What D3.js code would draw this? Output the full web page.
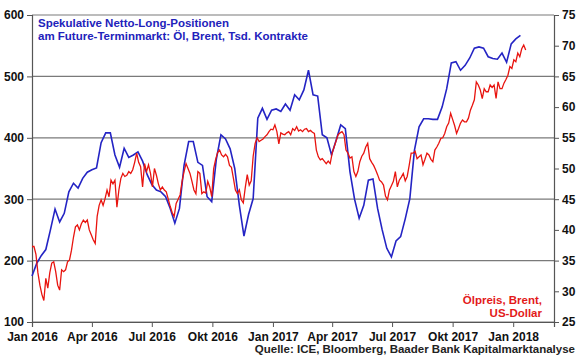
<!DOCTYPE html>
<html>
<head>
<meta charset="utf-8">
<script src="https://cdn.jsdelivr.net/npm/d3@7"></script>
<style>
  body { margin: 0; background: #fff; }
  svg text { font-family: "Liberation Sans", Arial, sans-serif; font-weight: bold; }
</style>
</head>
<body>
<div id="chart"></div>
<script>
// weekly net long positions (Tsd. contracts), starting 1 Jan 2016
var positions = [175, 195, 208, 218, 250, 284, 263, 277, 312, 326, 318, 334, 344, 348, 351, 392, 408, 408, 372, 352,
  383, 368, 372, 377, 362, 340, 324, 315, 312, 304, 285, 261, 285, 355, 394, 394, 360, 355, 304, 296,
  365, 405, 398, 382, 350, 290, 240, 275, 301, 432, 448, 430, 445, 447, 443, 455, 445, 470, 462, 478,
  510, 470, 468, 405, 400, 372, 396, 421, 415, 345, 300, 269, 290, 331, 333, 285, 250, 220, 206, 232,
  239, 268, 301, 380, 418, 431, 431, 430, 430, 450, 480, 522, 524, 510, 518, 530, 546, 548, 546, 532,
  529, 528, 538, 523, 553, 561, 567];

// Brent price in USD, every 3 days from 1 Jan 2016
var brent = [37.3, 37.3, 36.0, 33.0, 31.0, 29.5, 28.5, 32.1, 30.5, 33.0, 34.6, 34.8, 33.2, 31.0, 30.2, 33.5, 33.2, 33.5, 34.8, 35.1,
  36.7, 38.8, 40.5, 40.8, 40.0, 41.0, 41.6, 41.2, 41.6, 40.0, 39.2, 38.4, 37.8, 42.2, 44.0, 44.9, 44.0, 45.1, 46.5, 45.4,
  48.1, 47.5, 48.1, 43.7, 46.5, 48.4, 49.2, 48.7, 48.9, 49.5, 49.2, 49.8, 51.0, 52.5, 51.0, 50.3, 47.0, 50.8, 49.5, 50.6,
  49.2, 47.0, 50.0, 48.9, 47.5, 46.5, 47.0, 46.5, 46.2, 45.0, 43.8, 42.8, 42.2, 44.3, 45.0, 45.7, 47.9, 49.5, 50.8, 50.0,
  49.2, 47.9, 46.5, 45.9, 49.5, 49.2, 45.9, 46.2, 46.0, 47.9, 47.0, 45.4, 50.0, 51.5, 52.6, 53.0, 52.2, 51.9, 52.3, 51.9,
  50.5, 50.2, 48.4, 46.5, 45.9, 46.5, 44.9, 44.4, 46.9, 49.0, 47.3, 48.0, 52.0, 54.1, 55.0, 54.4, 54.6, 54.8, 55.2, 55.5,
  56.0, 56.4, 56.3, 57.1, 56.0, 54.0, 55.8, 55.6, 55.5, 55.8, 56.0, 55.5, 56.5, 56.2, 56.8, 56.1, 56.3, 56.0, 56.4, 56.5,
  56.0, 56.2, 55.9, 55.7, 53.0, 51.9, 51.4, 51.6, 51.2, 50.8, 51.2, 50.8, 52.5, 53.5, 54.5, 55.5, 55.8, 56.0, 55.5, 53.0,
  52.5, 51.7, 51.9, 49.5, 48.7, 49.5, 51.1, 52.0, 52.5, 53.5, 54.1, 51.6, 51.0, 50.5, 49.8, 49.0, 48.1, 47.8, 47.3, 45.5,
  44.9, 46.5, 47.2, 47.9, 49.5, 47.0, 48.1, 48.6, 49.2, 48.0, 48.7, 50.5, 52.5, 52.5, 52.8, 51.6, 51.9, 52.2, 50.6, 51.5,
  52.5, 52.2, 51.5, 51.1, 53.0, 53.5, 54.1, 54.9, 55.0, 55.7, 56.8, 57.4, 59.0, 58.0, 57.0, 55.7, 56.5, 57.4, 57.9, 57.6,
  57.6, 58.2, 59.5, 60.3, 61.2, 64.1, 63.6, 62.8, 61.4, 63.0, 62.5, 62.5, 63.6, 63.2, 63.6, 61.4, 64.1, 63.0, 63.0, 63.9,
  64.5, 65.2, 66.6, 66.3, 67.7, 67.4, 68.8, 68.2, 69.5, 70.1, 69.3];

var leftTicks = [100, 200, 300, 400, 500, 600];
var rightTicks = [25, 30, 35, 40, 45, 50, 55, 60, 65, 70, 75];
var monthNames = ["Jan", "Apr", "Jul", "Okt"];

var margin = { top: 15, left: 32, bottom: 37, right: 26 },
    width = 580 - margin.left - margin.right,
    height = 359 - margin.top - margin.bottom;

var start = new Date(2016, 0, 1);

var svg = d3.select('#chart').append('svg')
    .attr('width', 580)
    .attr('height', 359)
    .append('g')
    .attr('transform', 'translate(' + margin.left + ',' + margin.top + ')');

var x = d3.scaleTime()
    .domain([start, new Date(2018, 2, 4)])
    .range([0, width]);
var yL = d3.scaleLinear().domain([100, 600]).range([height, 0]);
var yR = d3.scaleLinear().domain([25, 75]).range([height, 0]);

// gridlines
svg.selectAll('.grid')
    .data(leftTicks)
    .enter().append('line')
    .attr('class', 'grid')
    .attr('x1', 0).attr('x2', width)
    .attr('y1', function (d) { return yL(d); })
    .attr('y2', function (d) { return yL(d); })
    .attr('stroke', '#7a7a7a')
    .attr('stroke-width', 1.2);

// axes
var xAxis = d3.axisBottom(x)
    .ticks(d3.timeMonth.every(3))
    .tickSize(5)
    .tickFormat(function (d) { return monthNames[d.getMonth() / 3] + ' ' + d.getFullYear(); });
var gx = svg.append('g')
    .attr('transform', 'translate(0,' + height + ')')
    .call(xAxis);

var gl = svg.append('g').call(d3.axisLeft(yL).tickValues(leftTicks).tickSize(5).tickFormat(d3.format('d')));
var gr = svg.append('g')
    .attr('transform', 'translate(' + width + ',0)')
    .call(d3.axisRight(yR).tickValues(rightTicks).tickSize(5).tickFormat(d3.format('d')));

[gx, gl, gr].forEach(function (g) {
    g.select('.domain').attr('stroke', '#555').attr('stroke-width', 1.2);
    g.selectAll('.tick line').attr('stroke', '#555');
    g.selectAll('.tick text')
        .attr('fill', '#111')
        .style('font-size', '12px')
        .style('font-weight', 'bold')
        .style('font-family', '"Liberation Sans", Arial, sans-serif');
});
gx.selectAll('.tick text').attr('dy', '0.95em');
gl.selectAll('.tick text').attr('x', -8);
gr.selectAll('.tick text').attr('x', 8);

// lines
var blueLine = d3.line()
    .x(function (d, i) { return x(d3.timeDay.offset(start, 7 * i)); })
    .y(function (d) { return yL(d); });
var redLine = d3.line()
    .x(function (d, i) { return x(d3.timeDay.offset(start, 3 * i)); })
    .y(function (d) { return yR(d); });

svg.append('path')
    .datum(positions)
    .attr('d', blueLine)
    .attr('fill', 'none')
    .attr('stroke', '#2424c4')
    .attr('stroke-width', 1.6);

svg.append('path')
    .datum(brent)
    .attr('d', redLine)
    .attr('fill', 'none')
    .attr('stroke', '#e8140f')
    .attr('stroke-width', 1.3);

// labels
var title = svg.append('text')
    .attr('x', 6)
    .attr('y', 12)
    .attr('fill', '#2222bb')
    .style('font-size', '11.5px');
title.append('tspan').attr('x', 6).attr('dy', 0).text('Spekulative Netto-Long-Positionen');
title.append('tspan').attr('x', 6).attr('dy', 12.5).text('am Future-Terminmarkt: Öl, Brent, Tsd. Kontrakte');

var red = svg.append('text')
    .attr('text-anchor', 'end')
    .attr('x', width - 12)
    .attr('y', 289)
    .attr('fill', '#e31a1a')
    .style('font-size', '11.5px');
red.append('tspan').attr('x', width - 12).attr('dy', 0).text('Ölpreis, Brent,');
red.append('tspan').attr('x', width - 12).attr('dy', 12.5).text('US-Dollar');

svg.append('text')
    .attr('text-anchor', 'end')
    .attr('x', 575 - margin.left)
    .attr('y', 353 - margin.top)
    .attr('fill', '#222')
    .style('font-size', '11.5px')
    .text('Quelle: ICE, Bloomberg, Baader Bank Kapitalmarktanalyse');
</script>
</body>
</html>
